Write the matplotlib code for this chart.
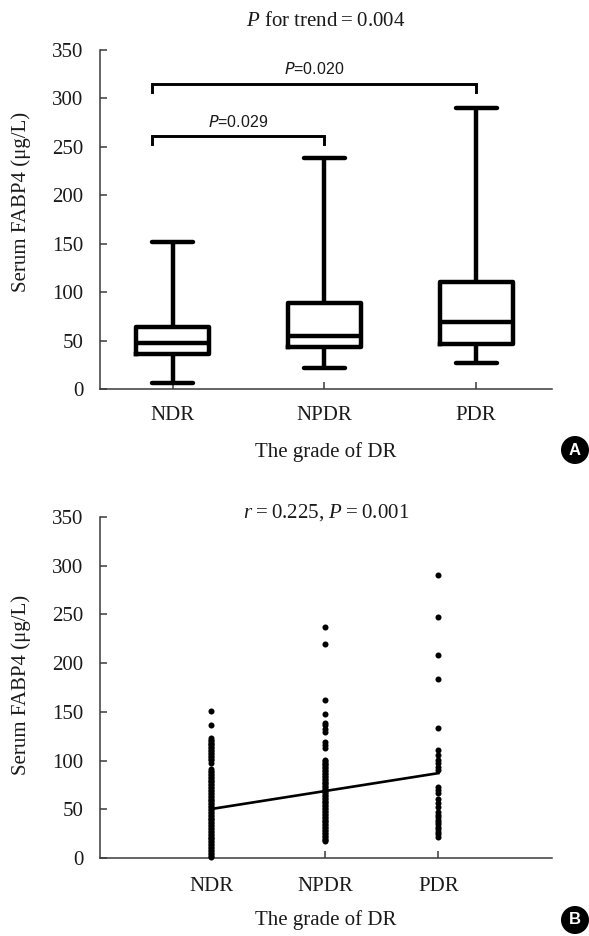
import matplotlib
matplotlib.use("Agg")
import matplotlib.pyplot as plt
from matplotlib.patches import Ellipse
import numpy as np

# ---------------- data ----------------
categories = ["NDR", "NPDR", "PDR"]
yticks = [0, 50, 100, 150, 200, 250, 300, 350]

# panel A box plot statistics
box_whislo = [6, 21.5, 27]
box_q1 = [36, 43, 46]
box_med = [48, 55, 69]
box_q3 = [64.5, 89, 110]
box_whishi = [152, 238, 290.5]

# pairwise comparisons (group a, group b, p-value)
comp_a = [0, 0]
comp_b = [1, 2]
comp_p = ["0.029", "0.020"]
comp_level = [261, 315]

title_a = "$P$ for trend\u2009=\u20090.004"
title_b = "$r$\u2009=\u20090.225, $P$\u2009=\u20090.001"

# panel B scatter values
ndr_vals = [151, 137, 123, 121.5, 120, 118.5, 117, 115.5, 114, 112.5, 111, 109.5,
            108, 106.5, 105, 103.5, 102, 100.5, 97.5, 91, 89.5, 88, 86.5, 85,
            83.5, 82, 80.5, 79, 77.5, 76, 74.5, 73, 71.5, 70, 68.5, 67, 65.5, 64,
            62.5, 61, 59.5, 58, 56.5, 55, 53.5, 52, 50.5, 49, 47.5, 46, 44.5, 43,
            41.5, 40, 38.5, 37, 35.5, 34, 32.5, 31, 29.5, 28, 26.5, 25, 23.5, 22,
            20.5, 19, 17.5, 16, 14.5, 13, 11.5, 10, 8.5, 7, 5.5, 4, 2.5, 1]
npdr_vals = [237, 220, 162, 148, 139, 136, 132, 129, 119, 116, 113, 101, 99.5,
             98, 96.5, 95, 93.5, 92, 90.5, 89, 87.5, 86, 84.5, 83, 81.5, 80, 78.5,
             77, 75.5, 74, 72.5, 71, 69.5, 68, 66.5, 65, 63.5, 62, 60.5, 59, 57.5,
             56, 54.5, 53, 51.5, 50, 48.5, 47, 45.5, 44, 42.5, 41, 39.5, 38, 36.5,
             35, 33.5, 32, 30.5, 29, 27.5, 26, 24.5, 23, 21.5, 20, 18.5, 17]
pdr_vals = [290, 247, 208, 184, 133, 111, 106, 101, 97, 93, 90, 73, 70, 67, 61,
            56, 52, 47, 44.5, 42, 39.5, 37, 34.5, 32, 29.5, 27, 24.5, 22]
trend_fit = [50.3, 68.7, 87.1]

# ---------------- style ----------------
serif = ["Liberation Serif", "DejaVu Serif"]
plt.rcParams["font.family"] = serif
plt.rcParams["mathtext.fontset"] = "custom"
plt.rcParams["mathtext.rm"] = "Liberation Serif"
plt.rcParams["mathtext.it"] = "Liberation Serif:italic"
FS = 15
spine_col = "#3a3a3a"
text_col = "#1a1a1a"

fig = plt.figure(figsize=(5.89, 9.36), dpi=100)
W, H = 589, 936


def style_axis(ax, xpad):
    for s in ("top", "right"):
        ax.spines[s].set_visible(False)
    for s in ("left", "bottom"):
        ax.spines[s].set_color(spine_col)
        ax.spines[s].set_linewidth(1.1)
    ax.set_ylim(0, 350)
    ax.set_yticks(yticks)
    ax.tick_params(axis="both", direction="in", length=5, width=1.1,
                   color=spine_col, labelsize=FS, labelcolor=text_col)
    ax.tick_params(axis="y", pad=12)
    ax.tick_params(axis="x", pad=xpad)


# ---------------- panel A ----------------
axA = fig.add_axes([100 / W, 1 - 389 / H, 452 / W, 339 / H])
stats = []
for i in range(3):
    stats.append(dict(med=box_med[i], q1=box_q1[i], q3=box_q3[i],
                      whislo=box_whislo[i], whishi=box_whishi[i], fliers=[]))
pos = np.arange(len(categories))
lw = 3.2
axA.bxp(stats, positions=pos, widths=0.48, capwidths=0.27, showfliers=False,
        boxprops=dict(color="black", linewidth=lw),
        whiskerprops=dict(color="black", linewidth=lw, solid_capstyle="butt"),
        capprops=dict(color="black", linewidth=lw, solid_capstyle="round"),
        medianprops=dict(color="black", linewidth=lw))
axA.set_xlim(-0.48, 2.5)
axA.set_xticks(pos)
axA.set_xticklabels(categories)
style_axis(axA, 12)

for a, b, p, lvl in zip(comp_a, comp_b, comp_p, comp_level):
    x0 = a - 0.14
    x1 = b
    axA.plot([x0, x0, x1, x1], [lvl - 8, lvl, lvl, lvl - 8], color="black",
             linewidth=2.1, solid_joinstyle="miter", clip_on=False)
    axA.text((x0 + x1) / 2, lvl + 15, "$P$=" + p, ha="center", va="center",
             fontsize=11.5, family=["Liberation Sans", "DejaVu Sans"],
             math_fontfamily="dejavusans", color=text_col)

axA.text(0.5, 1 + 28 / 339, title_a, transform=axA.transAxes, ha="center",
         va="center", fontsize=FS, color=text_col)
axA.set_xlabel("The grade of DR", fontsize=FS, color=text_col)
axA.xaxis.set_label_coords(0.5, (389 - 452) / 339)
axA.xaxis.label.set_va("center")
axA.set_ylabel("Serum FABP4 (μg/L)", fontsize=FS, color=text_col)
axA.yaxis.set_label_coords((21 - 100) / 452, (389 - 202) / 339)
axA.yaxis.label.set_va("center")

# ---------------- panel B ----------------
axB = fig.add_axes([100 / W, 1 - 858 / H, 452 / W, 341 / H])
groups = [ndr_vals, npdr_vals, pdr_vals]
for i, g in enumerate(groups):
    axB.scatter(np.full(len(g), i), g, s=19, color="black", linewidths=0,
                zorder=3, clip_on=False)
axB.plot(pos, trend_fit, color="black", linewidth=1.9, zorder=4)
axB.set_xlim(-0.98, 3.0)
axB.set_xticks(pos)
axB.set_xticklabels(categories)
style_axis(axB, 14)
axB.text(0.5, 1.012, title_b, transform=axB.transAxes, ha="center",
         va="center", fontsize=FS, color=text_col)
axB.set_xlabel("The grade of DR", fontsize=FS, color=text_col)
axB.xaxis.set_label_coords(0.5, (858 - 920) / 341)
axB.xaxis.label.set_va("center")
axB.set_ylabel("Serum FABP4 (μg/L)", fontsize=FS, color=text_col)
axB.yaxis.set_label_coords((21 - 100) / 452, (858 - 685) / 341)
axB.yaxis.label.set_va("center")

# ---------------- panel letters ----------------
for letter, cy in (("A", 450), ("B", 920)):
    fig.add_artist(Ellipse((575 / W, 1 - cy / H), 28 / W, 28 / H,
                           transform=fig.transFigure, facecolor="black",
                           edgecolor="none"))
    fig.text(575 / W, 1 - cy / H, letter, ha="center", va="center",
             color="white", fontsize=12, fontweight="bold",
             family=["Liberation Sans", "DejaVu Sans"])

fig.savefig("out.png", dpi=100)
